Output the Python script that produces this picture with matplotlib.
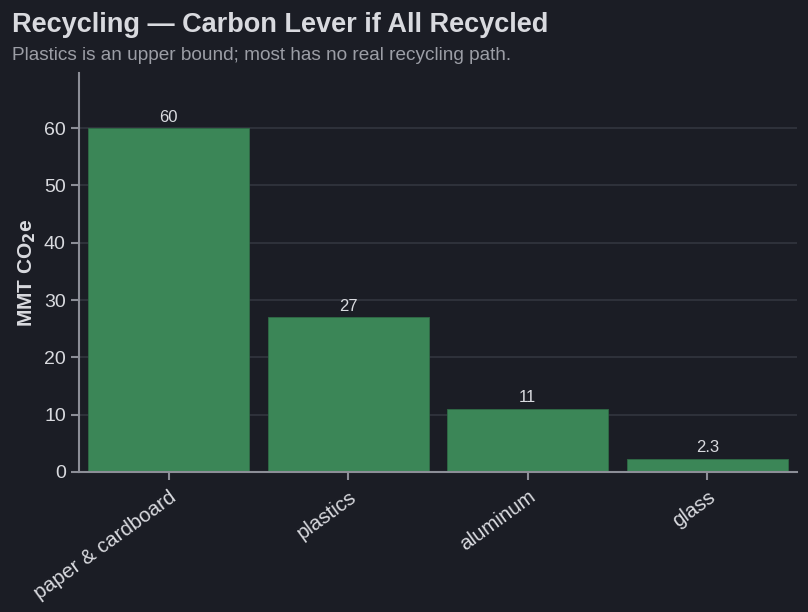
import matplotlib
matplotlib.use("Agg")
import matplotlib.pyplot as plt

plt.rcParams['font.family'] = ['Liberation Sans', 'DejaVu Sans']

# data
materials = ["paper & cardboard", "plastics", "aluminum", "glass"]
savings = [60, 27, 11, 2.3]
value_labels = ["60", "27", "11", "2.3"]

bg = "#1b1d25"
bar_color = "#3b8657"
text_color = "#d9dadf"
sub_color = "#9c9ea6"
axis_color = "#8c8e97"
grid_color = "#33363f"

fig = plt.figure(figsize=(8.08, 6.12), dpi=100, facecolor=bg)
ax = fig.add_axes([0.0978, 0.2288, 0.8886, 0.6519])
ax.set_facecolor(bg)

x = range(len(materials))
bars = ax.bar(x, savings, width=0.895, color=bar_color, edgecolor="#2f6b46",
              linewidth=0.6, zorder=2)

for xi, v, lab in zip(x, savings, value_labels):
    ax.annotate(lab, (xi, v), xytext=(0, 2.5), textcoords="offset points",
                ha="center", va="bottom", color=text_color, fontsize=12)

ax.set_xlim(-0.5, 3.5)
ax.set_ylim(0, 69.6)
ax.set_yticks([0, 10, 20, 30, 40, 50, 60])
ax.set_xticks(list(x))
ax.set_xticklabels(materials, rotation=36, ha="right", rotation_mode="anchor")

ax.grid(axis="y", color=grid_color, linewidth=1.2, zorder=0)
ax.set_axisbelow(True)

for side in ["top", "right"]:
    ax.spines[side].set_visible(False)
for side in ["left", "bottom"]:
    ax.spines[side].set_color(axis_color)
    ax.spines[side].set_linewidth(1.5)

ax.tick_params(axis="both", colors=axis_color, labelcolor=text_color,
               labelsize=14, width=1.5, length=6)
ax.tick_params(axis="x", labelsize=14.8, pad=5)

ax.set_ylabel(r"MMT CO$_\mathbf{2}$e", color=text_color, fontsize=15,
              fontweight="bold", labelpad=4)

fig.text(0.0149, 0.959, "Recycling \u2014 Carbon Lever if All Recycled",
         color=text_color, fontsize=19.5, fontweight="bold", va="center")
fig.text(0.0149, 0.910, "Plastics is an upper bound; most has no real recycling path.",
         color=sub_color, fontsize=13.7, va="center")

fig.savefig("out.png", dpi=100, facecolor=bg)
